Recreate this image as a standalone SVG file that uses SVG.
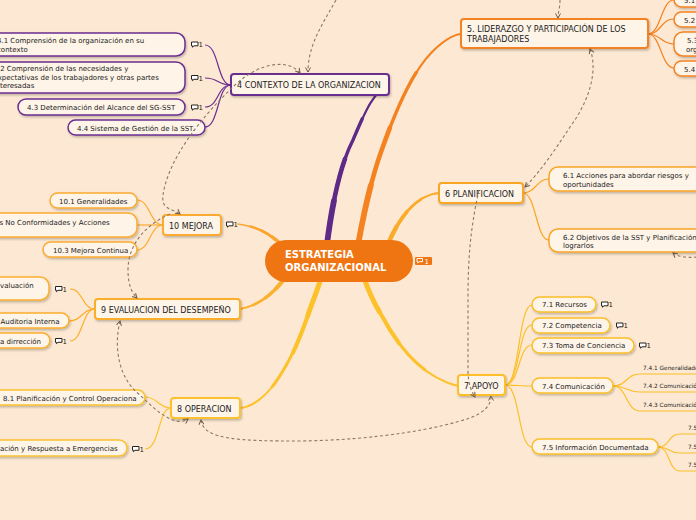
<svg xmlns="http://www.w3.org/2000/svg" xmlns:xlink="http://www.w3.org/1999/xlink" width="696" height="520" viewBox="0 0 696 520">
<defs>
<style>
text{font-family:"DejaVu Sans",Verdana,sans-serif;fill:#222}
.t8{font-size:8px}
.t7{font-size:7px}
.t6{font-size:5.8px}
.mn{fill:#fef4e8;stroke-width:2;filter:url(#sh)}
.ch{fill:#fef4e8;stroke-width:1.5;filter:url(#sh)}
.lk{fill:none;stroke-width:1.2}
.br{fill:none;stroke-linecap:round}
.s1{stroke-dasharray:75 200}
.s2{stroke-dasharray:50 200}
.s3{stroke-dasharray:25 200}
.ds{fill:none;stroke:#8a7866;stroke-width:1.1;stroke-dasharray:3 2.5}
.pu{stroke:#6b2e91}.o5{stroke:#f58220}.o6{stroke:#f9a526}.y7{stroke:#fcbf2a}.y8{stroke:#fcc22e}.o9{stroke:#fbae2c}.o10{stroke:#fbab30}
</style>
<filter id="sh" x="-10%" y="-30%" width="120%" height="170%">
<feDropShadow dx="1" dy="1.5" stdDeviation="0.8" flood-color="#000" flood-opacity="0.25"/>
</filter>
<marker id="ar" viewBox="0 0 6 6" refX="5" refY="3" markerWidth="6" markerHeight="6" orient="auto-start-reverse" markerUnits="userSpaceOnUse">
<path d="M0.5,0.5 L5,3 L0.5,5.5" fill="none" stroke="#6f5a48" stroke-width="1"/>
</marker>
<g id="cm"><path d="M0.5,0.5 h6.5 v3.8 h-4 l-1.6,1.4 v-1.4 h-0.9 z" fill="#fff" stroke="#222" stroke-width="1"/></g>
<path id="b4" pathLength="100" d="M327,244 C332,205 340,165 353,140 C365,112 374,90 389,86"/>
<path id="b5" pathLength="100" d="M358,245 C364,212 371,180 381,152 C395,112 412,72 432,52 C442,42 452,35 461,34"/>
<path id="b6" pathLength="100" d="M388,244 C398,220 415,195 439,193"/>
<path id="b7" pathLength="100" d="M364,278 C370,295 375,305 382,316 C400,350 425,378 458,386"/>
<path id="b8" pathLength="100" d="M321,278 C317,292 313,300 309,312 C298,345 288,365 275,383 C265,397 252,407 240,408"/>
<path id="b9" pathLength="100" d="M285,278 C272,295 258,306 240,309"/>
<path id="b10" pathLength="100" d="M282,245 C268,232 255,226 238,224"/>
</defs>
<rect x="0" y="0" width="696" height="520" fill="#fde9d3"/>

<g id="connectors">
<!-- main branches (tapered by layered strokes) -->
<g class="br" stroke="#5e2a88">
<use xlink:href="#b4" stroke-width="2.2"/><use xlink:href="#b4" class="s1" stroke-width="3.4"/><use xlink:href="#b4" class="s2" stroke-width="4.6"/><use xlink:href="#b4" class="s3" stroke-width="5.8"/>
</g>
<g class="br" stroke="#f58220">
<use xlink:href="#b5" stroke-width="2.2"/><use xlink:href="#b5" class="s1" stroke-width="3.4"/><use xlink:href="#b5" class="s2" stroke-width="4.6"/><use xlink:href="#b5" class="s3" stroke-width="5.8"/>
</g>
<g class="br" stroke="#fbab2a">
<use xlink:href="#b6" stroke-width="2"/><use xlink:href="#b6" class="s1" stroke-width="2.8"/><use xlink:href="#b6" class="s2" stroke-width="3.6"/><use xlink:href="#b6" class="s3" stroke-width="4.4"/>
</g>
<g class="br" stroke="#fdc22b">
<use xlink:href="#b7" stroke-width="2"/><use xlink:href="#b7" class="s1" stroke-width="3"/><use xlink:href="#b7" class="s2" stroke-width="4"/><use xlink:href="#b7" class="s3" stroke-width="5"/>
<use xlink:href="#b8" stroke-width="2"/><use xlink:href="#b8" class="s1" stroke-width="3"/><use xlink:href="#b8" class="s2" stroke-width="4"/><use xlink:href="#b8" class="s3" stroke-width="5"/>
</g>
<g class="br" stroke="#fbb030">
<use xlink:href="#b9" stroke-width="2"/><use xlink:href="#b9" class="s1" stroke-width="2.7"/><use xlink:href="#b9" class="s2" stroke-width="3.4"/><use xlink:href="#b9" class="s3" stroke-width="4.1"/>
</g>
<g class="br" stroke="#fba530">
<use xlink:href="#b10" stroke-width="1.6"/><use xlink:href="#b10" class="s1" stroke-width="2.2"/><use xlink:href="#b10" class="s2" stroke-width="2.8"/><use xlink:href="#b10" class="s3" stroke-width="3.4"/>
</g>
<!-- node 4 -->
<path class="lk pu" d="M231,85 C217,85 219,45 205,45"/>
<path class="lk pu" d="M231,85 C217,85 219,78 205,78"/>
<path class="lk pu" d="M231,85 C217,85 219,107 205,107"/>
<path class="lk pu" d="M231,85 C217,85 219,127 205,127"/>
<!-- node 5 -->
<path class="lk o5" d="M648,34 C661,34 661,0 674,0"/>
<path class="lk o5" d="M648,34 C661,34 661,19 674,19"/>
<path class="lk o5" d="M648,34 C661,34 661,44 674,44"/>
<path class="lk o5" d="M648,34 C661,34 661,68 674,68"/>
<!-- node 6 -->
<path class="lk o6" d="M523,193 C536,193 536,179 549,179"/>
<path class="lk o6" d="M523,193 C536,193 536,240 549,240"/>
<!-- node 7 -->
<path class="lk y7" d="M505,385 C520,385 518,305 532,305"/>
<path class="lk y7" d="M505,385 C520,385 518,325 532,325"/>
<path class="lk y7" d="M505,385 C520,385 518,345 532,345"/>
<path class="lk y7" d="M505,385 C518,385 519,386 532,386"/>
<path class="lk y7" d="M505,385 C520,385 518,447 532,447"/>
<path class="lk y7" d="M613,386 C627,386 626,374 640,374 L700,374"/>
<path class="lk y7" d="M613,386 C627,386 626,392 640,392 L700,392"/>
<path class="lk y7" d="M613,386 C627,386 626,411 640,411 L700,411"/>
<path class="lk y7" d="M658,447 C670,447 668,434 680,434 L700,434"/>
<path class="lk y7" d="M658,447 C670,447 668,453 680,453 L700,453"/>
<path class="lk y7" d="M658,447 C670,447 668,471 680,471 L700,471"/>
<!-- node 8 -->
<path class="lk y8" d="M171,408 C158,408 158,397 145,397"/>
<path class="lk y8" d="M171,408 C158,408 160,449 145,449"/>
<!-- node 9 -->
<path class="lk o9" d="M95,309 C82,309 83,289 70,289"/>
<path class="lk o9" d="M95,309 C82,309 82,321 69,321"/>
<path class="lk o9" d="M95,309 C82,309 83,341 70,341"/>
<!-- node 10 -->
<path class="lk o10" d="M163,225 C150,225 150,200 137,200"/>
<path class="lk o10" d="M163,225 C150,225 150,225 137,225"/>
<path class="lk o10" d="M163,225 C150,225 150,250 137,250"/>
</g>

<g id="central">
<rect x="265" y="240" width="148" height="42" rx="21" fill="#ef7512"/>
<text x="285" y="258" style="font-size:10px;font-weight:bold;fill:#fff">ESTRATEGIA</text>
<text x="285" y="271" style="font-size:10px;font-weight:bold;fill:#fff">ORGANIZACIONAL</text>
<rect x="415" y="257" width="17" height="8" rx="1" fill="#ef7512"/>
<path d="M417,258.5 h5.5 v3.2 h-3.4 l-1.3,1.2 v-1.2 h-0.8 z" fill="none" stroke="#fff" stroke-width="1"/>
<text x="424.5" y="264" class="t7" style="fill:#fff">1</text>
</g>

<g id="n4">
<rect class="mn pu" x="231" y="74" width="158" height="21" rx="3"/>
<text class="t8" x="237" y="88">4 CONTEXTO DE LA ORGANIZACION</text>
</g>
<g id="n4-1">
<rect class="ch pu" x="-10" y="33" width="195" height="23" rx="9"/>
<text class="t7" x="-3" y="43">4.1 Comprensión de la organización en su</text>
<text class="t7" x="-3" y="51.5">contexto</text>
<use xlink:href="#cm" x="191" y="41.5"/><text class="t7" x="198.5" y="47">1</text>
</g>
<g id="n4-2">
<rect class="ch pu" x="-12" y="62" width="197" height="31" rx="9"/>
<text class="t7" x="-6.5" y="71">4.2 Comprensión de las necesidades y</text>
<text class="t7" x="-6.5" y="79.5">expectativas de los trabajadores y otras partes</text>
<text class="t7" x="-6.5" y="88">interesadas</text>
<use xlink:href="#cm" x="191" y="75"/><text class="t7" x="198.5" y="80.5">1</text>
</g>
<g id="n4-3">
<rect class="ch pu" x="18" y="99" width="167" height="16" rx="8"/>
<text class="t7" x="27" y="110">4.3 Determinación del Alcance del SG-SST</text>
<use xlink:href="#cm" x="191" y="104.5"/><text class="t7" x="198.5" y="110">1</text>
</g>
<g id="n4-4">
<rect class="ch pu" x="68" y="120" width="137" height="15" rx="7.5"/>
<text class="t7" x="77" y="130.5">4.4 Sistema de Gestión de la SST.</text>
</g>

<g id="n5">
<rect class="mn o5" x="461" y="19" width="187" height="29" rx="3"/>
<text class="t8" x="467" y="31.5">5. LIDERAZGO Y PARTICIPACIÓN DE LOS</text>
<text class="t8" x="467" y="41.5">TRABAJADORES</text>
</g>
<g id="n5-1"><rect class="ch o5" x="674" y="-8" width="40" height="15" rx="7.5"/><text class="t7" x="684" y="2.5">5.1</text></g>
<g id="n5-2"><rect class="ch o5" x="674" y="12" width="40" height="15" rx="7.5"/><text class="t7" x="684" y="22.5">5.2</text></g>
<g id="n5-3"><rect class="ch o5" x="674" y="32" width="40" height="24" rx="9"/><text class="t7" x="687" y="42.5">5.3</text><text class="t7" x="686" y="51.5">organización</text></g>
<g id="n5-4"><rect class="ch o5" x="674" y="61" width="40" height="15" rx="7.5"/><text class="t7" x="684" y="71.5">5.4</text></g>

<g id="n6">
<rect class="mn o6" x="439" y="183" width="84" height="20" rx="3"/>
<text class="t8" x="445" y="196.5">6 PLANIFICACION</text>
</g>
<g id="n6-1">
<rect class="ch o6" x="549" y="167" width="160" height="24" rx="9"/>
<text class="t7" x="563" y="178">6.1 Acciones para abordar riesgos y</text>
<text class="t7" x="563" y="186.5">oportunidades</text>
</g>
<g id="n6-2">
<rect class="ch o6" x="549" y="229" width="160" height="23" rx="9"/>
<text class="t7" x="563" y="239.5">6.2 Objetivos de la SST y Planificación</text>
<text class="t7" x="563" y="248">lograrlos</text>
</g>

<g id="n7">
<rect class="mn y7" x="458" y="375" width="47" height="20" rx="3"/>
<text class="t8" x="464" y="388.5">7 APOYO</text>
</g>
<g id="n7-1">
<rect class="ch y7" x="532" y="297" width="64" height="15" rx="7.5"/>
<text class="t7" x="542" y="307">7.1 Recursos</text>
<use xlink:href="#cm" x="601" y="301.5"/><text class="t7" x="608.5" y="307">1</text>
</g>
<g id="n7-2">
<rect class="ch y7" x="532" y="318" width="78" height="15" rx="7.5"/>
<text class="t7" x="542" y="328">7.2 Competencia</text>
<use xlink:href="#cm" x="616" y="322.5"/><text class="t7" x="623.5" y="328">1</text>
</g>
<g id="n7-3">
<rect class="ch y7" x="532" y="338" width="102" height="15" rx="7.5"/>
<text class="t7" x="542" y="348">7.3 Toma de Conciencia</text>
<use xlink:href="#cm" x="639" y="342.5"/><text class="t7" x="646.5" y="348">1</text>
</g>
<g id="n7-4">
<rect class="ch y7" x="532" y="378" width="81" height="15" rx="7.5"/>
<text class="t7" x="542" y="388.5">7.4 Comunicación</text>
</g>
<g id="n7-4-1"><text class="t6" x="643" y="369.5">7.4.1 Generalidades</text></g>
<g id="n7-4-2"><text class="t6" x="643" y="388">7.4.2 Comunicación</text></g>
<g id="n7-4-3"><text class="t6" x="643" y="406.5">7.4.3 Comunicación</text></g>
<g id="n7-5">
<rect class="ch y7" x="532" y="439" width="126" height="15" rx="7.5"/>
<text class="t7" x="542" y="449.5">7.5 Información Documentada</text>
</g>
<g id="n7-5-1"><text class="t6" x="688" y="430">7.5.1</text></g>
<g id="n7-5-2"><text class="t6" x="688" y="449">7.5.2</text></g>
<g id="n7-5-3"><text class="t6" x="688" y="467">7.5.3</text></g>

<g id="n8">
<rect class="mn y8" x="171" y="398" width="69" height="20" rx="3"/>
<text class="t8" x="177" y="411.5">8 OPERACION</text>
</g>
<g id="n8-1">
<rect class="ch y8" x="-12" y="390" width="157" height="15" rx="7.5"/>
<text class="t7" x="3" y="400.5">8.1 Planificación y Control Operaciona</text>
</g>
<g id="n8-2">
<rect class="ch y8" x="-12" y="440" width="139" height="16" rx="8"/>
<text class="t7" x="0" y="451">ación y Respuesta a Emergencias</text>
<use xlink:href="#cm" x="132" y="446"/><text class="t7" x="139.5" y="451.5">1</text>
</g>

<g id="n9">
<rect class="mn o9" x="95" y="299" width="145" height="20" rx="3"/>
<text class="t8" x="101" y="312.5">9 EVALUACION DEL DESEMPEÑO</text>
</g>
<g id="n9-1">
<rect class="ch o9" x="-12" y="277" width="61" height="23" rx="9"/>
<text class="t7" x="-4.3" y="287.5">evaluación</text>
<use xlink:href="#cm" x="55" y="286"/><text class="t7" x="62.5" y="291.5">1</text>
</g>
<g id="n9-2">
<rect class="ch o9" x="-12" y="313" width="81" height="15" rx="7.5"/>
<text class="t7" x="0.5" y="323.5">Auditoria Interna</text>
</g>
<g id="n9-3">
<rect class="ch o9" x="-12" y="333" width="62" height="15" rx="7.5"/>
<text class="t7" x="0" y="343.5">a dirrección</text>
<use xlink:href="#cm" x="55" y="338"/><text class="t7" x="62.5" y="343.5">1</text>
</g>

<g id="n10">
<rect class="mn o10" x="163" y="215" width="58" height="20" rx="3"/>
<text class="t8" x="169" y="228.5">10 MEJORA</text>
<use xlink:href="#cm" x="226" y="221.5"/><text class="t7" x="233.5" y="227">1</text>
</g>
<g id="n10-1">
<rect class="ch o10" x="50" y="193" width="87" height="15" rx="7.5"/>
<text class="t7" x="59" y="204">10.1 Generalidades</text>
</g>
<g id="n10-2">
<rect class="ch o10" x="-12" y="213" width="149" height="24" rx="9"/>
<text class="t7" x="-0.5" y="224.5">s No Conformidades y Acciones</text>
</g>
<g id="n10-3">
<rect class="ch o10" x="43" y="242" width="94" height="15" rx="7.5"/>
<text class="t7" x="53" y="253">10.3 Mejora Continua</text>
</g>

<g id="relationships">
<path class="ds" marker-end="url(#ar)" d="M336,0 C322,25 308,45 308,72"/>
<path class="ds" marker-start="url(#ar)" marker-end="url(#ar)" d="M300,73 C290,60 262,60 235,85 C200,118 168,160 163,195 C161,210 172,208 180,214"/>
<path class="ds" marker-end="url(#ar)" d="M170,214 C145,225 128,245 128,270 C128,285 132,293 137,298"/>
<path class="ds" marker-start="url(#ar)" marker-end="url(#ar)" d="M120,321 C113,350 120,380 140,395 C155,410 175,428 188,419"/>
<path class="ds" marker-start="url(#ar)" marker-end="url(#ar)" d="M201,420 C203,440 240,441 300,441 C380,440 440,428 470,418 C485,412 491,405 491,396"/>
<path class="ds" marker-end="url(#ar)" d="M479,190 C470,230 468,260 468,300 L468,370 C468,385 472,392 475,397"/>
<path class="ds" marker-start="url(#ar)" marker-end="url(#ar)" d="M590,49 C598,70 590,100 570,127 C555,150 540,172 525,187"/>
<path class="ds" marker-end="url(#ar)" d="M560,0 C560,8 558,12 558,18"/>
<path class="ds" marker-end="url(#ar)" d="M697,257 C688,258 678,257 673,253"/>
</g>
</svg>
